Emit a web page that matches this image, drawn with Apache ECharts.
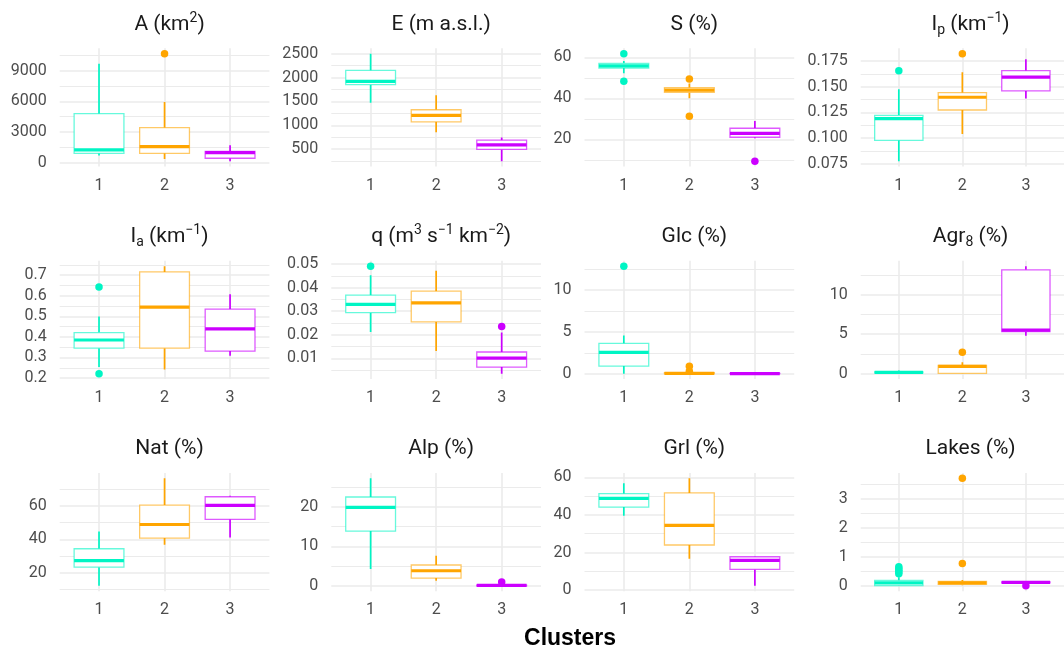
<!DOCTYPE html>
<html><head><meta charset="utf-8">
<script src="https://cdn.jsdelivr.net/npm/echarts@6/dist/echarts.min.js"></script>
<style>html,body{margin:0;padding:0;background:#fff}#c{width:1064px;height:645px}</style>
</head><body><div id="c"></div>
<script>
// ---------------- data ----------------
const clusters = ['1', '2', '3'];
const clusterColors = ['#00F5C4', '#FFA500', '#CC00FF'];
const clusterBoxColors = ['rgba(0,245,196,0.6)', 'rgba(255,165,0,0.6)', 'rgba(204,0,255,0.65)'];

// box rows per cluster: [lower whisker, Q1, median, Q3, upper whisker]
// outliers: [cluster, value]
const A_box = [[685, 910, 1240, 4800, 9700], [360, 910, 1565, 3424, 5940], [130, 420, 980, 1105, 1690]];
const A_out = [[2, 10690]];
const A_ticks = ['0', '3000', '6000', '9000'];

const E_box = [[1473, 1850, 1920, 2150, 2500], [856, 1074, 1206, 1326, 1632], [248, 494, 592, 689, 745]];
const E_out = [];
const E_ticks = ['500', '1000', '1500', '2000', '2500'];

const S_box = [[52.2, 54.8, 55.8, 57.1, 58.2], [40.0, 42.9, 44.0, 45.2, 47.3], [20.5, 21.0, 22.9, 25.4, 28.9]];
const S_out = [[1, 61.8], [1, 48.4], [2, 49.4], [2, 31.2], [3, 9.3]];
const S_ticks = ['20', '40', '60'];

const Ip_box = [[0.0775, 0.0978, 0.1189, 0.1221, 0.1476], [0.1039, 0.1273, 0.1397, 0.1442, 0.1640], [0.1384, 0.1459, 0.1592, 0.1656, 0.1766]];
const Ip_out = [[1, 0.1656], [2, 0.1821]];
const Ip_ticks = ['0.075', '0.100', '0.125', '0.150', '0.175'];

const Ia_box = [[0.254, 0.345, 0.385, 0.421, 0.499], [0.241, 0.345, 0.545, 0.716, 0.744], [0.308, 0.331, 0.439, 0.535, 0.607]];
const Ia_out = [[1, 0.643], [1, 0.221]];
const Ia_ticks = ['0.2', '0.3', '0.4', '0.5', '0.6', '0.7'];

const q_box = [[0.0212, 0.0294, 0.0329, 0.0368, 0.0453], [0.0131, 0.0255, 0.0335, 0.0385, 0.0472], [0.0035, 0.0063, 0.0101, 0.0127, 0.0210]];
const q_out = [[1, 0.0491], [3, 0.0235]];
const q_ticks = ['0.01', '0.02', '0.03', '0.04', '0.05'];

const Glc_box = [[0, 0.92, 2.55, 3.63, 4.58], [0, 0, 0.05, 0.12, 0.25], [0, 0, 0.02, 0.05, 0.08]];
const Glc_out = [[1, 12.87], [2, 0.9], [2, 0.3]];
const Glc_ticks = ['0', '5', '10'];

const Agr_box = [[0.08, 0.12, 0.17, 0.24, 0.42], [0, 0.04, 0.93, 1.06, 1.44], [4.79, 5.34, 5.51, 13.14, 13.6]];
const Agr_out = [[2, 2.71]];
const Agr_ticks = ['0', '5', '10'];

const Nat_box = [[12.0, 23.2, 27.2, 34.3, 44.7], [36.7, 40.7, 48.9, 60.6, 76.7], [41.1, 52.0, 60.4, 65.6, 66.2]];
const Nat_out = [];
const Nat_ticks = ['20', '40', '60'];

const Alp_box = [[4.26, 13.9, 19.9, 22.55, 27.3], [1.28, 1.96, 3.83, 5.28, 7.66], [0, 0, 0.1, 0.2, 0.4]];
const Alp_out = [[3, 0.94]];
const Alp_ticks = ['0', '10', '20'];

const Grl_box = [[39.6, 44.2, 48.8, 51.3, 56.8], [16.7, 24.0, 34.4, 51.7, 59.5], [2.3, 11.0, 15.8, 17.75, 17.9]];
const Grl_out = [];
const Grl_ticks = ['0', '20', '40', '60'];

const Lakes_box = [[0, 0.01, 0.1, 0.185, 0.3], [0.02, 0.05, 0.1, 0.15, 0.2], [0.09, 0.1, 0.12, 0.14, 0.16]];
const Lakes_out = [[1, 0.66], [1, 0.6], [1, 0.54], [1, 0.48], [1, 0.42], [2, 3.72], [2, 0.77], [3, 0.0]];
const Lakes_ticks = ['0', '1', '2', '3'];

const panelTitles = [
  '{n|A (km}{sup|2}{n|)}',
  '{n|E (m a.s.l.)}',
  '{n|S (%)}',
  '{n|I}{sub|p}{n| (km}{sup|\u22121}{n|)}',
  '{n|I}{sub|a}{n| (km}{sup|\u22121}{n|)}',
  '{n|q (m}{sup|3}{n| s}{sup|\u22121}{n| km}{sup|\u22122}{n|)}',
  '{n|Glc (%)}',
  '{n|Agr}{sub|8}{n| (%)}',
  '{n|Nat (%)}',
  '{n|Alp (%)}',
  '{n|Grl (%)}',
  '{n|Lakes (%)}'
];
const xAxisTitle = 'Clusters';

const panels = [
  [A_box, A_out, A_ticks], [E_box, E_out, E_ticks], [S_box, S_out, S_ticks], [Ip_box, Ip_out, Ip_ticks],
  [Ia_box, Ia_out, Ia_ticks], [q_box, q_out, q_ticks], [Glc_box, Glc_out, Glc_ticks], [Agr_box, Agr_out, Agr_ticks],
  [Nat_box, Nat_out, Nat_ticks], [Alp_box, Alp_out, Alp_ticks], [Grl_box, Grl_out, Grl_ticks], [Lakes_box, Lakes_out, Lakes_ticks]
];

// ---------------- layout ----------------
const colLeft = [59.7, 331.3, 584.5, 860.7];
const rowTop = [48.3, 260.8, 472.9];
const panelW = 209.7, panelH = 118.3;
const FONT = 'Roboto, "Noto Sans", sans-serif';
const gridColor = '#EBEBEB';

const grids = [], xAxes = [], yAxes = [], series = [], titles = [];

panels.forEach(([box, out, ticks], i) => {
  const col = i % 4, row = Math.floor(i / 4);
  const left = colLeft[col], top = rowTop[row];
  grids.push({ left: left, top: top, width: panelW, height: panelH, containLabel: false });

  let lo = Infinity, hi = -Infinity;
  box.forEach(b => { lo = Math.min(lo, b[0]); hi = Math.max(hi, b[4]); });
  out.forEach(o => { lo = Math.min(lo, o[1]); hi = Math.max(hi, o[1]); });
  const pad = 0.05 * (hi - lo);
  const yMin = lo - pad, yMax = hi + pad;

  const majors = ticks.map(Number);
  const step = majors[1] - majors[0];
  const minorsAll = [majors[0] - step / 2];
  majors.forEach(m => minorsAll.push(m + step / 2));
  const minors = minorsAll.filter(v => v >= yMin && v <= yMax);

  xAxes.push({
    gridIndex: i, type: 'value', min: 0.4, max: 3.6,
    axisLine: { show: false },
    axisTick: { show: false, customValues: [1, 2, 3] },
    axisLabel: {
      customValues: [1, 2, 3], margin: 11, color: '#4D4D4D', fontSize: 16, fontFamily: FONT,
      formatter: v => clusters[Math.round(v) - 1]
    },
    splitLine: { show: true, lineStyle: { color: gridColor, width: 1.6 } }
  });

  yAxes.push({
    gridIndex: i, type: 'value', min: yMin, max: yMax, position: 'left',
    axisLine: { show: false },
    axisTick: { show: false, customValues: majors },
    axisLabel: {
      customValues: majors, margin: 13, color: '#4D4D4D', fontSize: 16, fontFamily: FONT,
      formatter: v => { const k = majors.findIndex(m => Math.abs(m - v) < 1e-9); return k >= 0 ? ticks[k] : ''; }
    },
    splitLine: { show: true, lineStyle: { color: gridColor, width: 1.5 } }
  });
  yAxes.push({
    gridIndex: i, type: 'value', min: yMin, max: yMax, position: 'left',
    axisLine: { show: false },
    axisTick: { show: false, customValues: minors },
    axisLabel: { show: false },
    splitLine: { show: true, lineStyle: { color: gridColor, width: 1.1 } }
  });

  series.push({
    type: 'custom', xAxisIndex: i, yAxisIndex: 2 * i, clip: true, z: 3,
    encode: { x: 0, y: [1, 2, 3, 4, 5] },
    data: box.map((b, k) => [k + 1].concat(b)),
    renderItem: (params, api) => {
      const x = api.value(0);
      const pLo = api.coord([x, api.value(1)]);
      const pQ1 = api.coord([x, api.value(2)]);
      const pMed = api.coord([x, api.value(3)]);
      const pQ3 = api.coord([x, api.value(4)]);
      const pHi = api.coord([x, api.value(5)]);
      const hw = api.size([0.76, 0])[0] / 2;
      const c = clusterColors[params.dataIndex];
      const cb = clusterBoxColors[params.dataIndex];
      return {
        type: 'group', children: [
          { type: 'line', shape: { x1: pLo[0], y1: pLo[1], x2: pQ1[0], y2: pQ1[1] }, style: { stroke: c, lineWidth: 1.7 } },
          { type: 'line', shape: { x1: pQ3[0], y1: pQ3[1], x2: pHi[0], y2: pHi[1] }, style: { stroke: c, lineWidth: 1.7 } },
          { type: 'rect', shape: { x: pQ3[0] - hw, y: pQ3[1], width: 2 * hw, height: pQ1[1] - pQ3[1] }, style: { fill: '#ffffff', stroke: cb, lineWidth: 1.3 } },
          { type: 'line', shape: { x1: pMed[0] - hw, y1: pMed[1], x2: pMed[0] + hw, y2: pMed[1] }, style: { stroke: c, lineWidth: 3.2 } }
        ]
      };
    }
  });
  series.push({
    type: 'scatter', xAxisIndex: i, yAxisIndex: 2 * i, z: 4, symbol: 'circle', symbolSize: 7.5,
    data: out.map(o => ({ value: [o[0], o[1]], itemStyle: { color: clusterColors[o[0] - 1], opacity: 1 } }))
  });

  titles.push({
    text: panelTitles[i], left: left + panelW / 2, top: top - 29,
    textAlign: 'center', textVerticalAlign: 'middle',
    textStyle: {
      fontWeight: 'normal',
      rich: {
        n: { fontSize: 21, fontWeight: 'normal', fontFamily: FONT, color: '#1A1A1A', lineHeight: 26 },
        sup: { fontSize: 14, fontWeight: 'normal', fontFamily: FONT, color: '#1A1A1A', verticalAlign: 'top', lineHeight: 14 },
        sub: { fontSize: 14, fontWeight: 'normal', fontFamily: FONT, color: '#1A1A1A', verticalAlign: 'bottom', lineHeight: 14 }
      }
    }
  });
});

titles.push({
  text: xAxisTitle, left: colLeft[0] + (colLeft[3] + panelW - colLeft[0]) / 2, top: 634,
  textAlign: 'center', textVerticalAlign: 'middle',
  textStyle: { fontSize: 23, fontWeight: 'bold', color: '#000000', fontFamily: '"Liberation Sans", Arial, sans-serif' }
});

const chart = echarts.init(document.getElementById('c'), null, { renderer: 'canvas' });
chart.setOption({
  animation: false,
  backgroundColor: '#ffffff',
  title: titles,
  grid: grids,
  xAxis: xAxes,
  yAxis: yAxes,
  series: series
});
</script>
</body></html>
